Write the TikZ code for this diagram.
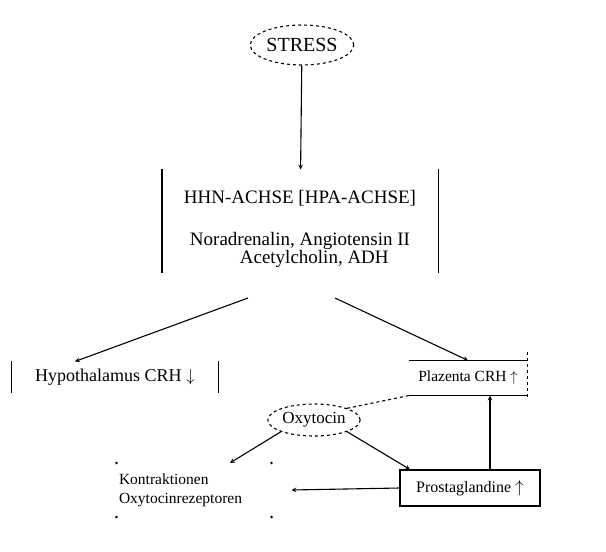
\documentclass[tikz,border=0pt]{standalone}
\usepackage{fontspec}
\setmainfont{Liberation Serif}
\usetikzlibrary{shapes.geometric, positioning}

\begin{document}
\begin{tikzpicture}[x=1pt, y=-1pt, >=stealth, line width=1.1pt,
			font=\fontsize{16}{19}\selectfont,
			oval/.style={ellipse, draw, dashed, inner sep=1pt},
			box/.style={inner sep=2pt, align=center}]
		\useasboundingbox (0,0) rectangle (606,552);

		\node[oval, minimum width=95pt, minimum height=40pt,
			font=\fontsize{20}{24}\selectfont] (stress) at (302,45) {STRESS};
		\node[box, minimum width=275pt, minimum height=102pt,
			font=\fontsize{19}{18}\selectfont] (hpa) at (300,221)
			{\rule{0pt}{29pt}HHN-ACHSE [HPA-ACHSE]\\[24pt] Noradrenalin, Angiotensin II\\ \hspace{1.5em}Acetylcholin, ADH};
		\node[box, minimum width=206pt, minimum height=30pt,
			font=\fontsize{18}{21}\selectfont] (hypo) at (115,377) {Hypothalamus CRH $\downarrow$};
		\node[box, minimum width=117pt, minimum height=34pt,
			font=\fontsize{15.5}{18}\selectfont] (plac) at (468,378) {Plazenta CRH $\uparrow$};
		\node[oval, minimum width=90pt, minimum height=32pt,
			font=\fontsize{17}{20}\selectfont] (oxy) at (314,420) {Oxytocin};
		\node[box, text width=150pt, align=left, minimum height=53pt,
			font=\fontsize{15.5}{19}\selectfont] (kontr) at (194,490) {Kontraktionen\\Oxytocinrezeptoren};
		\node[box, draw, minimum width=140pt, minimum height=36pt] (prost) at (470,488) {Prostaglandine $\uparrow$};

		% seitenlinien
		\draw (hpa.north west) -- (hpa.south west);
		\draw (hpa.north east) -- (hpa.south east);
		\draw (hypo.north west) -- (hypo.south west);
		\draw (hypo.north east) -- (hypo.south east);
		\draw (plac.north west) -- (plac.north east);
		\draw (plac.south west) -- (plac.south east);
		\draw[dashed] ([yshift=8pt]plac.north east) -- ([yshift=-4pt]plac.south east);
		\foreach \c in {north west, north east, south west, south east} {
				\fill (kontr.\c) circle (1.4pt);
			}

		\coordinate (hl) at (248,298);
		\coordinate (hr) at (335,298);

		\draw[->] (stress) -- (hpa);
		\draw[->] (hl) -- ([xshift=-40pt]hypo.north);
		\draw[->] (hr) -- (plac.north);
		\draw[dashed] (oxy.north east) -- (plac.south west);
		\draw[->] (oxy.south west) -- ([xshift=36pt]kontr.north);
		\draw[->] (oxy.south east) -- ([xshift=-60pt]prost.north);
		\draw[->] (prost.west) -- ([xshift=20pt]kontr.east);
		\draw[->] ([xshift=20pt]prost.north) -- ([xshift=22pt]plac.south);
	\end{tikzpicture}
\end{document}
